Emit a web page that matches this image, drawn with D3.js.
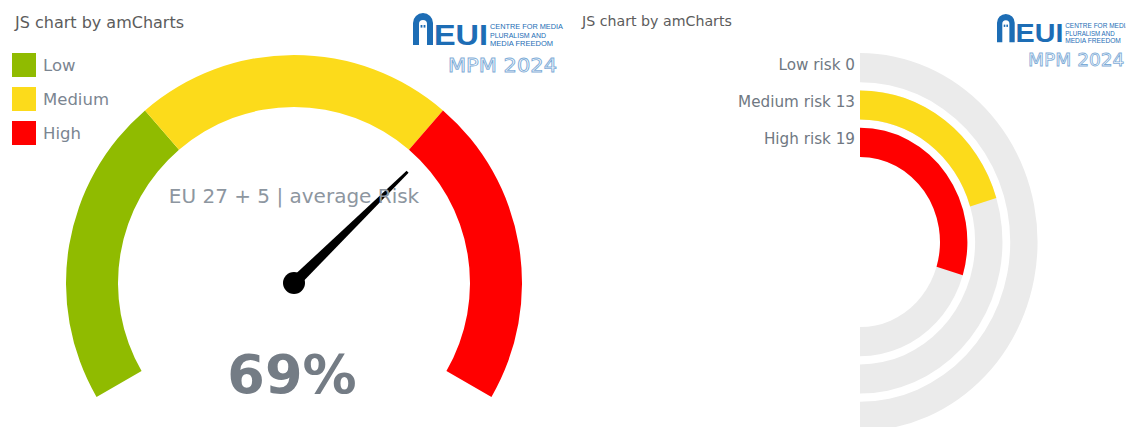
<!DOCTYPE html>
<html><head><meta charset="utf-8">
<script src="https://cdn.jsdelivr.net/npm/d3@7"></script>
<style>html,body{margin:0;padding:0;background:#fff;overflow:hidden}</style>
</head><body><svg id="c" width="1126" height="427"></svg>
<script>
// ---- data ----
const gaugeBandNames = ["Low", "Medium", "High"];
const gaugeBandStarts = [0, 33, 67];
const gaugeBandEnds = [33, 67, 100];
const gaugeBandColors = ["#90bb00", "#fcdb1b", "#ff0000"];
const gaugeValue = 69;
const gaugeTitle = "EU 27 + 5 | average Risk";
const radialCategories = ["Low risk", "Medium risk", "High risk"];
const radialValues = [0, 13, 19];
const radialColors = ["#90bb00", "#fcdb1b", "#ff0000"];
const radialMax = 32;
const creditText = "JS chart by amCharts";
const logoLines = ["CENTRE FOR MEDIA", "PLURALISM AND", "MEDIA FREEDOM"];
const logoEdition = "MPM 2024";

const svg = d3.select("#c");
svg.append("rect").attr("width", 1126).attr("height", 427).attr("fill", "#fff");
const FONT = "'DejaVu Sans', Verdana, sans-serif";
const deg = Math.PI / 180;

function drawLogo(x, y, s) {
  const g = svg.append("g").attr("transform", `translate(${x},${y}) scale(${s})`);
  const blue = "#1d6db5";
  g.append("path")
    .attr("d", "M0,32 L0,10 A10,10 0 0 1 20,10 L20,32 L14,32 L14,11 A4,4 0 0 0 6,11 L6,32 Z")
    .attr("fill", blue);
  g.append("rect").attr("x", 7.6).attr("y", 12).attr("width", 1.8).attr("height", 2.6).attr("fill", blue);
  g.append("rect").attr("x", 10.6).attr("y", 12).attr("width", 1.8).attr("height", 2.6).attr("fill", blue);
  g.append("text").attr("x", 21).attr("y", 32).text("EUI")
    .attr("font-family", "'Liberation Sans Narrow','Liberation Sans',Arial,sans-serif")
    .attr("font-weight", "bold").attr("font-size", 30).attr("fill", blue)
    .attr("textLength", 54).attr("lengthAdjust", "spacingAndGlyphs");
  logoLines.forEach((t, i) => {
    g.append("text").attr("x", 77).attr("y", 16 + i * 8.5).text(t)
      .attr("font-family", "'Liberation Sans Narrow','Liberation Sans',Arial,sans-serif")
      .attr("font-size", 8).attr("fill", blue)
      .attr("textLength", [73, 56, 63][i]).attr("lengthAdjust", "spacingAndGlyphs");
  });
  g.append("text").attr("x", 35).attr("y", 59).text(logoEdition)
    .attr("font-family", "'DejaVu Sans',sans-serif").attr("font-size", 19)
    .attr("fill", "#fff").attr("stroke", "#7fadd8").attr("stroke-width", 0.9)
    .attr("textLength", 109).attr("lengthAdjust", "spacingAndGlyphs");
}

// ---------- LEFT: gauge ----------
svg.append("text").attr("x", 15).attr("y", 28).text(creditText)
  .attr("font-family", FONT).attr("font-size", 16).attr("fill", "#5c5c5c");
drawLogo(413, 13, 1);

const gcx = 294, gcy = 283, gInner = 176, gOuter = 228;
const gAngle = d3.scaleLinear().domain([0, 100]).range([-120 * deg, 120 * deg]);
const gArc = d3.arc().innerRadius(gInner).outerRadius(gOuter);
const gg = svg.append("g").attr("transform", `translate(${gcx},${gcy})`);
gg.selectAll("path.band").data(gaugeBandNames).join("path")
  .attr("class", "band")
  .attr("d", (d, i) => gArc({ startAngle: gAngle(gaugeBandStarts[i]), endAngle: gAngle(gaugeBandEnds[i]) }))
  .attr("fill", (d, i) => gaugeBandColors[i]);

// legend
const leg = svg.append("g");
gaugeBandNames.forEach((n, i) => {
  leg.append("rect").attr("x", 12).attr("y", 53 + i * 34).attr("width", 24).attr("height", 24)
    .attr("fill", gaugeBandColors[i]);
  leg.append("text").attr("x", 43).attr("y", 71 + i * 34).text(n)
    .attr("font-family", FONT).attr("font-size", 16.5).attr("fill", "#7b8591");
});

// title
svg.append("text").attr("x", gcx).attr("y", 203).attr("text-anchor", "middle").text(gaugeTitle)
  .attr("font-family", FONT).attr("font-size", 20).attr("fill", "#8d96a0");

// value
svg.append("text").attr("x", gcx - 2).attr("y", 393).attr("text-anchor", "middle").text(gaugeValue + "%")
  .attr("font-family", FONT).attr("font-weight", "bold").attr("font-size", 54).attr("fill", "#747c85");

// needle
const na = gAngle(gaugeValue);
const nLen = 159;
const dir = [Math.sin(na), -Math.cos(na)], perp = [Math.cos(na), Math.sin(na)];
const bw = 5.5, tw = 1.4;
const pts = [
  [bw * perp[0], bw * perp[1]],
  [nLen * dir[0] + tw * perp[0], nLen * dir[1] + tw * perp[1]],
  [nLen * dir[0] - tw * perp[0], nLen * dir[1] - tw * perp[1]],
  [-bw * perp[0], -bw * perp[1]]
];
gg.append("path").attr("d", d3.line()(pts) + "Z").attr("fill", "#000");
gg.append("circle").attr("r", 11).attr("fill", "#000");

// ---------- RIGHT: radial bars ----------
svg.append("text").attr("x", 582).attr("y", 26).text(creditText)
  .attr("font-family", FONT).attr("font-size", 14.2).attr("fill", "#5c5c5c");
drawLogo(997, 14, 0.885);

const rcx = 860, rcy = 242, rxScale = 0.94;
const rBand = d3.scaleBand().domain(radialCategories.slice().reverse()).range([81, 193])
  .paddingInner(0.22).paddingOuter(0.11);
const rAngle = d3.scaleLinear().domain([0, radialMax]).range([0, Math.PI]);
const rg = svg.append("g").attr("transform", `translate(${rcx},${rcy})`);
const rings = rg.append("g").attr("transform", `scale(${rxScale},1)`);
const rArc = d3.arc();
radialCategories.forEach((c, i) => {
  const r0 = rBand(c), r1 = r0 + rBand.bandwidth();
  rings.append("path").attr("d", rArc({ innerRadius: r0, outerRadius: r1, startAngle: rAngle(0), endAngle: rAngle(radialMax) }))
    .attr("fill", "#ebebeb");
  if (radialValues[i] > 0) {
    rings.append("path").attr("d", rArc({ innerRadius: r0, outerRadius: r1, startAngle: rAngle(0), endAngle: rAngle(radialValues[i]) }))
      .attr("fill", radialColors[i]);
  }
  rg.append("text").attr("x", -5).attr("y", -(r0 + r1) / 2 - 3.5).attr("dy", "0.35em")
    .attr("text-anchor", "end").text(c + " " + radialValues[i])
    .attr("font-family", FONT).attr("font-size", 15.2).attr("fill", "#6f7882");
});
</script>
</body></html>
